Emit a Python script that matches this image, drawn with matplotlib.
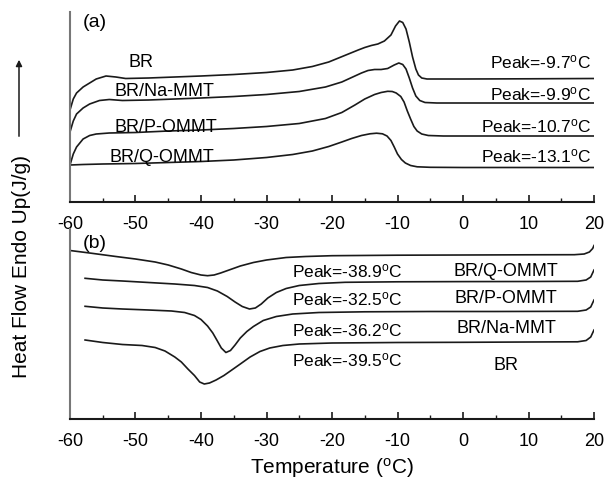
import numpy as np
import matplotlib
matplotlib.use("Agg")
import matplotlib.pyplot as plt
from matplotlib.ticker import MultipleLocator

plt.rcParams['font.family'] = ['Liberation Sans', 'DejaVu Sans']
plt.rcParams['mathtext.fontset'] = 'custom'
plt.rcParams['mathtext.rm'] = 'Liberation Sans'
plt.rcParams['mathtext.it'] = 'Liberation Sans'

# ---------------- (a) heating / melting curves (arb. units) ----------------
br_a_x = [-60, -59.5, -59, -58, -57, -56, -54.5, -53, -51.5, -48, -44, -40, -35, -30, -26,
          -23, -20.5, -19, -17.5, -16, -15, -14, -13, -12, -11, -10.3, -9.7, -9.2, -8.7, -8.2,
          -7.7, -7.2, -6.8, -6.3, -5.5, -3, 0, 10, 20]
br_a_y = [92, 103, 109, 115, 119, 123, 126, 125, 123.5, 124, 125, 126, 127.5, 129.5, 132,
          135.5, 140, 144, 148, 152, 154.5, 156.5, 158, 161, 167, 176, 181, 179.5, 173, 160,
          145, 133, 127, 124, 123, 123, 123, 123.2, 123.5]

na_a_x = [-60, -59.5, -59, -58, -57, -55.5, -54, -52, -48, -44, -40, -35, -30, -25, -21,
          -18.5, -17, -15.5, -14.5, -13.5, -12.5, -11.5, -10.5, -9.8, -9.2, -8.7, -8.2, -7.7,
          -7.2, -6.6, -5.8, -4, 0, 10, 20]
na_a_y = [70, 81, 88, 94, 98, 101.5, 102.5, 101.5, 102, 103, 104, 105.5, 107.5, 110.5, 115,
          120, 124.5, 129, 131.5, 132.5, 132.5, 133.5, 137, 139, 137.5, 133, 124, 114,
          106, 101.5, 99.5, 99, 99, 99, 99]

p_a_x = [-60, -59.5, -59, -58, -57, -56, -54, -50, -45, -40, -35, -30, -25, -21, -18.5,
         -16.5, -15, -13.5, -12.5, -11.5, -10.8, -10.2, -9.5, -9, -8.5, -8, -7.5, -7, -6.3,
         -5.3, -3, 0, 10, 20]
p_a_y = [37, 48, 55, 63, 66.5, 68, 69, 69.5, 71, 72, 73.5, 75.5, 78.5, 83.5, 89.5,
         97, 103, 107.5, 109.5, 110.7, 110.5, 109, 105.5, 100, 91, 83, 75.5, 71, 68,
         66.5, 66, 66, 66, 66]

q_a_x = [-60, -58, -55, -50, -45, -40, -35, -30, -26, -23, -20.5, -18.5, -17, -15.5, -14.2,
         -13.2, -12.3, -11.6, -11, -10.5, -10, -9.4, -8.8, -8, -7, -5, 0, 10, 20]
q_a_y = [37, 37.5, 38, 38.5, 39.5, 40.5, 42, 44.5, 47.5, 51, 55.5, 60, 63.5, 66.5, 68.2,
         68.8, 68.2, 66, 61.5, 55, 48, 42.5, 39, 36.5, 35.2, 34.7, 34.5, 34.5, 34.5]

# ---------------- (b) cooling / crystallization curves (arb. units) ----------------
q_b_x = [-60, -57, -53, -50, -47, -45, -43, -41.5, -40, -39, -38, -37, -35.5, -34, -32, -30,
         -27, -24, -20, -10, 0, 10, 17, 18.5, 19.3, 19.8, 20]
q_b_y = [168.5, 166, 162.5, 160, 157, 154, 150, 146.5, 144, 143.3, 144, 146, 149.5, 153,
         156.5, 159, 161.5, 162.5, 163.3, 163.8, 164, 164.2, 164.3, 165, 167, 170.5, 173.5]

p_b_x = [-57.7, -55, -52, -48, -44, -41, -39, -37.5, -36, -34.8, -33.7, -32.6, -31.7, -30.8,
         -29.8, -28.5, -27, -25, -22, -18, -10, 0, 10, 17.5, 18.8, 19.5, 20]
p_b_y = [140.7, 139, 138, 136.5, 135, 133.5, 131.5, 128, 122.5, 117, 112.5, 110, 111, 115,
         121, 126.5, 130.5, 133.5, 135.5, 136.7, 137.2, 137.4, 137.5, 137.7, 139, 142, 149]

na_b_x = [-57.7, -55, -52, -48, -44.5, -42.5, -41, -40, -39, -38.2, -37.5, -36.9, -36.2,
          -35.5, -34.8, -34, -33, -32, -30.5, -28.5, -26, -22, -15, -5, 5, 17.5, 18.8, 19.5, 20]
na_b_y = [112.7, 111, 110, 109, 108, 106.5, 103.5, 99.5, 93, 86, 78, 71, 66.5,
          68.5, 74, 81, 87.5, 92.5, 98.5, 102.5, 105, 106.5, 107.2, 107.5, 107.5, 107.7, 109, 112, 119]

br_b_x = [-57.7, -55, -52, -49, -47, -45.5, -44, -43, -42, -41, -40.2, -39.5, -38.7, -37.7,
          -36.5, -35.3, -34, -32.5, -31, -29.5, -27.5, -25, -20, -10, 0, 10, 17.5, 18.8, 19.5, 20]
br_b_y = [79, 76.5, 74.5, 73.5, 71.5, 68, 62, 57, 50, 43.5, 37, 35, 36, 39,
          43.5, 49, 55, 62, 67.5, 71, 73.5, 75, 76, 76.5, 76.7, 77, 77.2, 78.5, 82, 89]

samples = ['BR', 'BR/Na-MMT', 'BR/P-OMMT', 'BR/Q-OMMT']
peaks_a = ['-9.7', '-9.9', '-10.7', '-13.1']
samples_b = ['BR/Q-OMMT', 'BR/P-OMMT', 'BR/Na-MMT', 'BR']
peaks_b = ['-38.9', '-32.5', '-36.2', '-39.5']

xticks = [-60, -50, -40, -30, -20, -10, 0, 10, 20]

W, H = 606, 485
fig = plt.figure(figsize=(W / 100, H / 100), dpi=100)
ax1 = fig.add_axes([70 / W, 1 - 203 / H, 524 / W, 190 / H])
ax2 = fig.add_axes([70 / W, 1 - 420 / H, 524 / W, 190 / H])

lw = 1.2
for xs, ys in [(br_a_x, br_a_y), (na_a_x, na_a_y), (p_a_x, p_a_y), (q_a_x, q_a_y)]:
    ax1.plot(xs, ys, color='#1a1a1a', lw=lw)
for xs, ys in [(q_b_x, q_b_y), (p_b_x, p_b_y), (na_b_x, na_b_y), (br_b_x, br_b_y)]:
    ax2.plot(xs, ys, color='#1a1a1a', lw=lw)

for ax in (ax1, ax2):
    ax.set_xlim(-60, 20)
    ax.set_ylim(0, 190)
    ax.set_xticks(xticks)
    ax.set_xticklabels([str(t) for t in xticks])
    ax.xaxis.set_minor_locator(MultipleLocator(5))
    ax.set_yticks([])
    ax.spines['top'].set_visible(False)
    ax.spines['right'].set_visible(False)
    ax.spines['left'].set_color('#777777')
    ax.spines['left'].set_linewidth(1.5)
    ax.spines['bottom'].set_color('#1a1a1a')
    ax.spines['bottom'].set_linewidth(1.5)
    ax.tick_params(axis='x', which='major', direction='in', length=5, width=1.2,
                   labelsize=13, pad=9.5, color='#1a1a1a')
    ax.tick_params(axis='x', which='minor', direction='in', length=3, width=1.0,
                   color='#1a1a1a')
    ax.patch.set_alpha(0)

ps = 12.5
ss = 13
deg = r'$^{\mathrm{o}}$C'
# panel (a) labels
ax1.text(-56.2, 181, '(a)', fontsize=14, ha='center', va='center')
for name, (x, y) in zip(samples, [(-49.1, 141), (-45.6, 112), (-45.3, 75.5), (-45.9, 45.3)]):
    ax1.text(x, y, name, fontsize=ss, ha='center', va='center')
for pk, y in zip(peaks_a, [141, 109, 77, 47]):
    ax1.text(19.6, y, 'Peak=' + pk + deg, fontsize=ps, ha='right', va='center')

# panel (b) labels
ax2.text(-56.2, 176.7, '(b)', fontsize=14, ha='center', va='center')
for pk, y in zip(peaks_b, [148.3, 120.7, 90, 60]):
    ax2.text(-26.1, y, 'Peak=' + pk + deg, fontsize=ps, ha='left', va='center')
for name, y in zip(samples_b, [148.3, 121.7, 91.7, 55]):
    ax2.text(6.6, y, name, fontsize=ss, ha='center', va='center')

fig.text(332 / W, 1 - 468 / H, 'Temperature (' + deg + ')', fontsize=15,
         ha='center', va='center')
fig.text(22 / W, 1 - 266 / H, 'Heat Flow Endo Up(J/g)', fontsize=15, rotation=90,
         ha='center', va='center')
fig.patches.append(matplotlib.patches.FancyArrowPatch(
    (19 / W, 1 - 140 / H), (19 / W, 1 - 58 / H), transform=fig.transFigure,
    arrowstyle='-|>', mutation_scale=9, lw=1.1, color='#1a1a1a'))

fig.savefig('out.png', dpi=100)
